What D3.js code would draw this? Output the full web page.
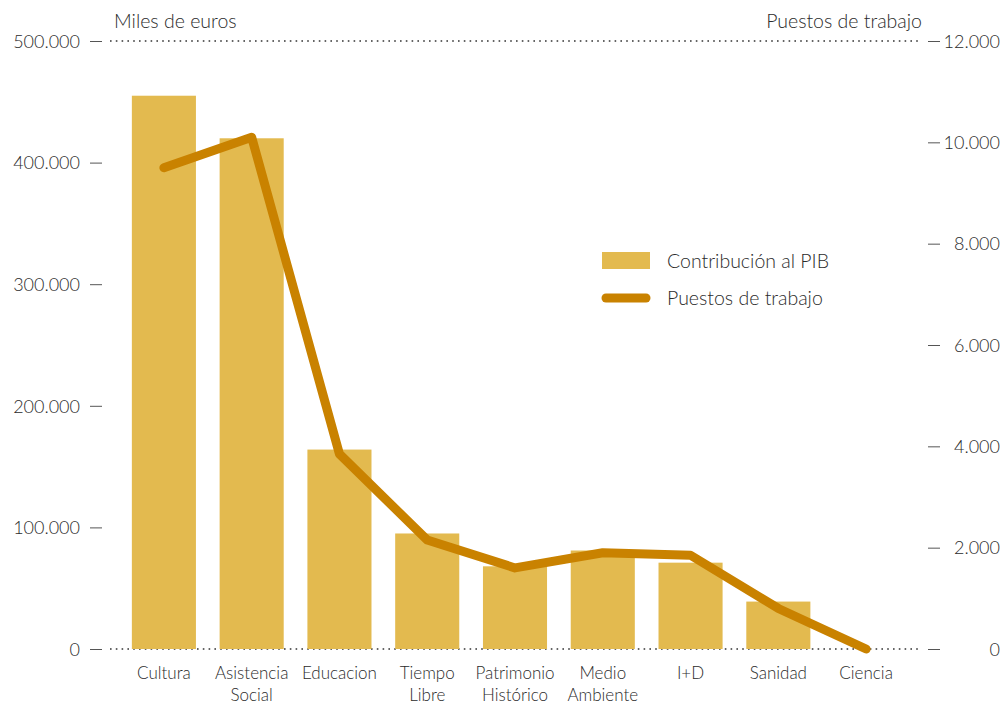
<!DOCTYPE html>
<html>
<head>
<meta charset="utf-8">
<script src="https://cdn.jsdelivr.net/npm/d3@7"></script>
<style>
  body { margin: 0; background: #fff; }
  svg text { font-family: Lato, "Open Sans", sans-serif; font-weight: 300; fill: #2b2b2b; }
</style>
</head>
<body>
<svg width="1003" height="706"></svg>
<script>
// datos
var categorias = [["Cultura"], ["Asistencia", "Social"], ["Educacion"], ["Tiempo", "Libre"],
  ["Patrimonio", "Histórico"], ["Medio", "Ambiente"], ["I+D"], ["Sanidad"], ["Ciencia"]];
var contribucion = [455000, 420000, 164000, 95000, 68000, 81000, 71000, 39000, 0];
var puestos = [9500, 10100, 3850, 2150, 1600, 1900, 1850, 800, 0];
var ticksIzq = [0, 100000, 200000, 300000, 400000, 500000];
var ticksDer = [0, 2000, 4000, 6000, 8000, 10000, 12000];

var colorBarra = "#e3ba4f",
    colorLinea = "#c98200";

var svg = d3.select("svg"),
    top0 = 41, base = 649;

var fmt = function(v) { return v === 0 ? "0" : d3.format(",")(v).replace(/,/g, "."); };

var x = d3.scaleBand().domain(d3.range(categorias.length)).range([120, 910]).paddingInner(0.27).paddingOuter(0.135),
    yIzq = d3.scaleLinear().domain([0, 500000]).range([base, top0]),
    yDer = d3.scaleLinear().domain([0, 12000]).range([base, top0]);

// lineas punteadas arriba y abajo
svg.selectAll(".punteada")
  .data([500000, 0])
  .enter().append("line")
  .attr("x1", 110).attr("x2", 922)
  .attr("y1", function(d) { return yIzq(d); })
  .attr("y2", function(d) { return yIzq(d); })
  .attr("stroke", "#333")
  .attr("stroke-width", 1.6)
  .attr("stroke-dasharray", "1.6 4.2");

// eje izquierdo
var ejeIzq = svg.append("g")
  .attr("transform", "translate(102,0)")
  .call(d3.axisLeft(yIzq).tickValues(ticksIzq).tickFormat(fmt).tickSize(12).tickPadding(10));
ejeIzq.select(".domain").remove();
ejeIzq.selectAll("line").attr("stroke", "#555");
ejeIzq.selectAll("text").style("font-size", "18px").attr("dy", "0.35em");

// eje derecho
var ejeDer = svg.append("g")
  .attr("transform", "translate(928,0)")
  .call(d3.axisRight(yDer).tickValues(ticksDer).tickFormat(fmt).tickSize(12).tickPadding(0));
ejeDer.select(".domain").remove();
ejeDer.selectAll("line").attr("stroke", "#555");
ejeDer.selectAll("text").style("font-size", "18px").attr("dy", "0.35em")
  .attr("text-anchor", "end").attr("x", 72);

// titulos de ejes
svg.append("text").attr("x", 114).attr("y", 28).style("font-size", "19.5px").text("Miles de euros");
svg.append("text").attr("x", 922).attr("y", 28).attr("text-anchor", "end").style("font-size", "19.5px").text("Puestos de trabajo");

// barras
svg.selectAll(".bar")
  .data(contribucion)
  .enter().append("rect")
  .attr("class", "bar")
  .attr("x", function(d, i) { return x(i); })
  .attr("y", function(d) { return yIzq(d); })
  .attr("width", x.bandwidth())
  .attr("height", function(d) { return base - yIzq(d); })
  .attr("fill", colorBarra);

// linea de puestos de trabajo
var linea = d3.line()
  .x(function(d, i) { return x(i) + x.bandwidth() / 2; })
  .y(function(d) { return yDer(d); });

svg.append("path")
  .datum(puestos)
  .attr("d", linea)
  .attr("fill", "none")
  .attr("stroke", colorLinea)
  .attr("stroke-width", 9)
  .attr("stroke-linecap", "round")
  .attr("stroke-linejoin", "round");

// etiquetas de categorias
var etiquetas = svg.selectAll(".cat")
  .data(categorias)
  .enter().append("text")
  .attr("class", "cat")
  .attr("text-anchor", "middle")
  .style("font-size", "17px")
  .attr("transform", function(d, i) { return "translate(" + (x(i) + x.bandwidth() / 2) + ",679)"; });
etiquetas.selectAll("tspan")
  .data(function(d) { return d; })
  .enter().append("tspan")
  .attr("x", 0)
  .attr("y", function(d, j) { return j * 22; })
  .text(function(d) { return d; });

// leyenda
var leyenda = svg.append("g").attr("transform", "translate(602,0)");
leyenda.append("rect").attr("x", 0).attr("y", 252).attr("width", 48).attr("height", 17).attr("fill", colorBarra);
leyenda.append("line").attr("x1", 4).attr("x2", 44).attr("y1", 298).attr("y2", 298)
  .attr("stroke", colorLinea).attr("stroke-width", 9).attr("stroke-linecap", "round");
leyenda.append("text").attr("x", 65).attr("y", 261).attr("dy", "0.35em").style("font-size", "19.5px").text("Contribución al PIB");
leyenda.append("text").attr("x", 65).attr("y", 298).attr("dy", "0.35em").style("font-size", "19.5px").text("Puestos de trabajo");
</script>
</body>
</html>
